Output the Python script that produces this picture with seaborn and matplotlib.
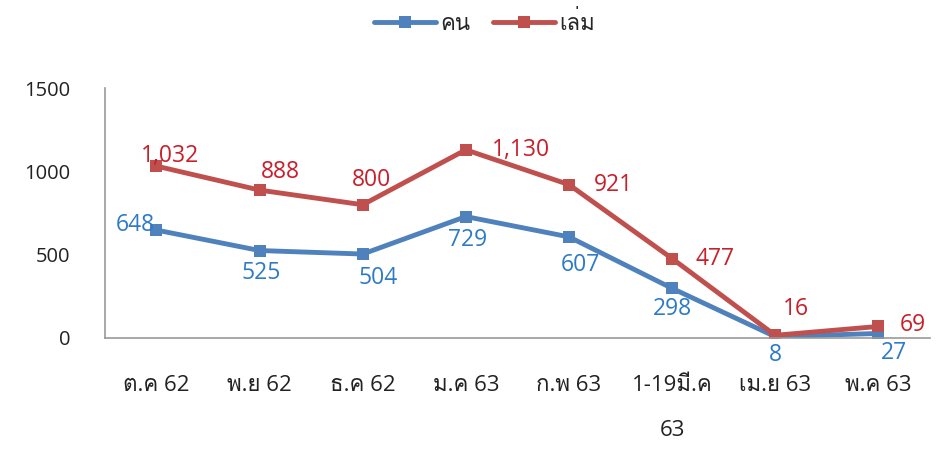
import matplotlib
matplotlib.use("Agg")
import matplotlib.pyplot as plt
import seaborn as sns
import pandas as pd
from matplotlib import font_manager
from matplotlib.ft2font import FT2Font

months = ["ต.ค 62", "พ.ย 62", "ธ.ค 62", "ม.ค 63", "ก.พ 63", "1-19มี.ค\n63", "เม.ย 63", "พ.ค 63"]
people = [648, 525, 504, 729, 607, 298, 8, 27]
books = [1032, 888, 800, 1130, 921, 477, 16, 69]
series_names = ["คน", "เล่ม"]


def find_thai_font():
    for f in font_manager.fontManager.ttflist:
        try:
            cmap = FT2Font(f.fname).get_charmap()
        except Exception:
            continue
        if 0x0E04 in cmap and 0x0E25 in cmap and 0x0E48 in cmap:
            return f.name
    return None


sns.set_theme(style="white")
thai = find_thai_font()
fams = ["Open Sans"] + ([thai] if thai else []) + ["DejaVu Sans"]
plt.rcParams["font.family"] = fams

blue, red = "#4F81BD", "#C0504D"
blue_txt, red_txt = "#2E7AC6", "#C8202A"

df = pd.DataFrame({
    "x": list(range(len(months))) * 2,
    "value": people + books,
    "series": [series_names[0]] * len(people) + [series_names[1]] * len(books),
})

fig = plt.figure(figsize=(9.45, 4.5), dpi=100)
ax = fig.add_axes([0.111, 0.249, 0.873, 0.555])
sns.lineplot(data=df, x="x", y="value", hue="series", palette=[blue, red],
             style="series", markers=["s", "s"], dashes=False, linewidth=3.5,
             markersize=8.5, markeredgewidth=0, ax=ax)

ax.set_xlim(-0.5, len(months) - 0.5)
ax.set_ylim(0, 1500)
ax.set_yticks([0, 500, 1000, 1500])
ax.set_xticks(range(len(months)))
ax.set_xticklabels(months, fontsize=16, color="#222222", linespacing=2.45, va="top")
ax.tick_params(axis="y", labelsize=14.5, colors="#222222", length=0, pad=25)
ax.tick_params(axis="x", length=0, pad=27)
ax.set_xlabel("")
ax.set_ylabel("")
for s in ["top", "right"]:
    ax.spines[s].set_visible(False)
for s in ["left", "bottom"]:
    ax.spines[s].set_color("#999999")
    ax.spines[s].set_linewidth(1.2)

# data labels (offsets in points)
blue_off = [(-15, 4), (1, -16), (11, -17), (1, -17), (8, -20), (0, -15), (0, -13), (11, -14)]
red_off = [(10, 7), (15, 13), (6, 18), (40, 0), (32, 0), (31, 0), (15, 19), (25, 1)]
for i, v in enumerate(people):
    ax.annotate(f"{v:,}", (i, v), xytext=blue_off[i], textcoords="offset points",
                ha="center", va="center", fontsize=16.5, color=blue_txt)
for i, v in enumerate(books):
    ax.annotate(f"{v:,}", (i, v), xytext=red_off[i], textcoords="offset points",
                ha="center", va="center", fontsize=16.5, color=red_txt)

ax.legend(loc="center", bbox_to_anchor=(0.46, 1.26), ncol=2, frameon=False,
          fontsize=16, handlelength=2.8, columnspacing=1.0, handletextpad=0.2,
          title=None)

fig.savefig("out.png", dpi=100)
